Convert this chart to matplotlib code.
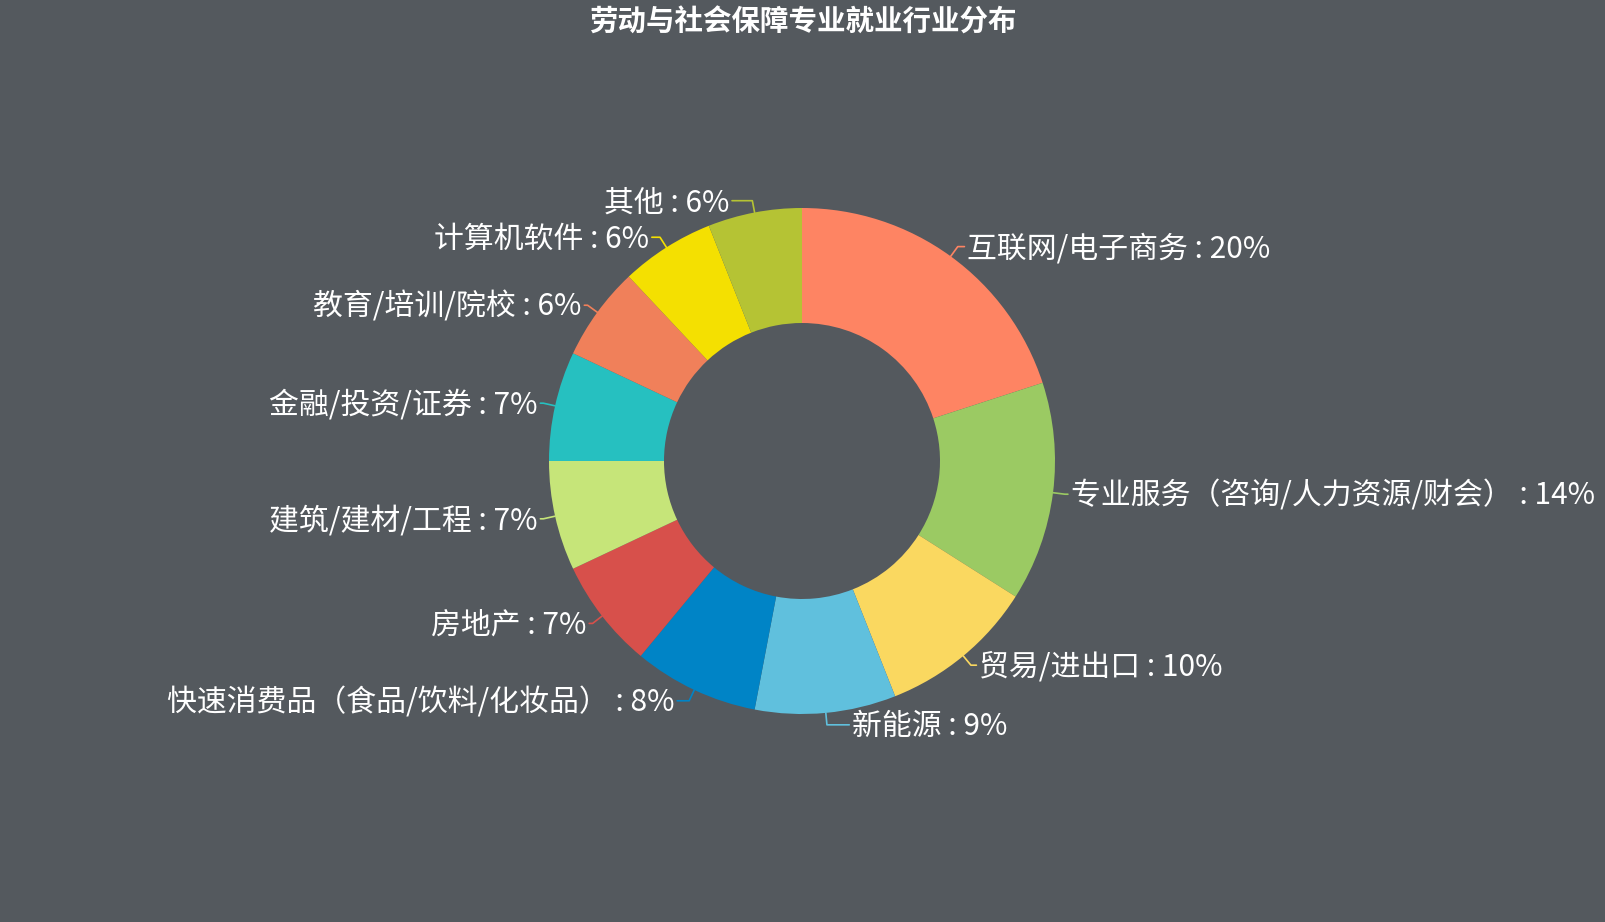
import numpy as np
import matplotlib
matplotlib.use("Agg")
import matplotlib.pyplot as plt

plt.rcParams['font.family'] = ['Noto Sans CJK SC', 'DejaVu Sans']

title = "劳动与社会保障专业就业行业分布"
categories = ["互联网/电子商务", "专业服务（咨询/人力资源/财会）", "贸易/进出口", "新能源",
              "快速消费品（食品/饮料/化妆品）", "房地产", "建筑/建材/工程", "金融/投资/证券",
              "教育/培训/院校", "计算机软件", "其他"]
values = [20, 14, 10, 9, 8, 7, 7, 7, 6, 6, 6]
colors = ["#fe8463", "#9bca63", "#fad860", "#60c0dd", "#0084c6", "#d7504b",
          "#c6e579", "#26c0c0", "#f0805a", "#f4e001", "#b5c334"]

bg = "#54595e"
W, H = 1606, 922
cx, cy = 802, 461
r_out, r_in = 253, 138

fig = plt.figure(figsize=(W / 100, H / 100), dpi=100, facecolor=bg)
ax = fig.add_axes([0, 0, 1, 1])

wedges, _ = ax.pie(values, colors=colors, startangle=90, counterclock=False,
                   center=(cx, cy), radius=r_out, frame=True,
                   wedgeprops=dict(width=r_out - r_in, linewidth=0))
ax.set_xlim(0, W)
ax.set_ylim(0, H)
ax.set_aspect("equal")
ax.axis("off")

# leader lines + labels, ECharts style
for w, name, v, c in zip(wedges, categories, values, colors):
    ang = np.deg2rad((w.theta1 + w.theta2) / 2)
    dx, dy = np.cos(ang), np.sin(ang)
    side = 1 if dx >= 0 else -1
    x0, y0 = cx + r_out * dx, cy + r_out * dy
    x1, y1 = cx + (r_out + 12) * dx, cy + (r_out + 12) * dy
    x2 = x1 + side * (3 + 20 * abs(dy) ** 8)
    ax.plot([x0, x1, x2], [y0, y1, y1], color=c, lw=1.2, solid_capstyle="round")
    ax.text(x2 + side * 3, y1 - 2, f"{name} : {v}%", color="white", fontsize=21.5,
            ha="left" if side > 0 else "right", va="center")

fig.text(0.5, 1 - 23 / H, title, color="white", fontsize=20.5, fontweight="bold",
         ha="center", va="center")

fig.savefig("out.png", dpi=100, facecolor=bg)
